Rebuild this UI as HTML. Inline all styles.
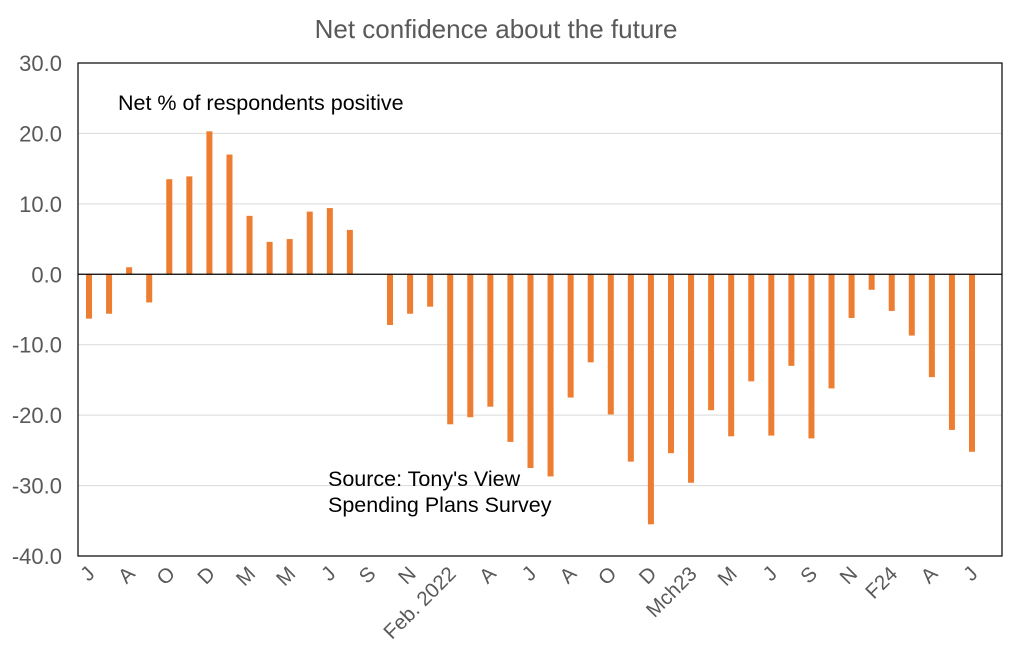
<!DOCTYPE html>
<html><head><meta charset="utf-8"><style>
html,body{margin:0;padding:0;background:#fff}
svg{display:block;font-family:"Liberation Sans",sans-serif}
</style></head><body>
<svg width="1024" height="669" viewBox="0 0 1024 669">
<text x="496" y="38" text-anchor="middle" font-size="26" fill="#595959">Net confidence about the future</text>
<g id="grid"></g>
<g id="bars"></g>
<g id="ylabels"></g>
<g id="xlabels"></g>
<rect x="78" y="63" width="924" height="493" fill="none" stroke="#000" stroke-width="1.2"/>
<text x="118" y="110" font-size="21.5" fill="#000">Net % of respondents positive</text>
<text font-size="21.5" fill="#000"><tspan x="328" y="486">Source: Tony's View</tspan><tspan x="328" y="512">Spending Plans Survey</tspan></text>
</svg>
<script>
const values=[-6.3,-5.6,1.0,-4.0,13.5,13.9,20.3,17.0,8.3,4.6,5.0,8.9,9.4,6.3,0,-7.2,-5.6,-4.6,-21.3,-20.3,-18.8,-23.8,-27.5,-28.7,-17.5,-12.5,-19.9,-26.6,-35.5,-25.4,-29.6,-19.3,-23.0,-15.2,-22.9,-13.0,-23.3,-16.2,-6.2,-2.2,-5.2,-8.7,-14.6,-22.1,-25.2];
const categoryLabels=["J","","A","","O","","D","","M","","M","","J","","S","","N","","Feb. 2022","","A","","J","","A","","O","","D","","Mch23","","M","","J","","S","","N","","F24","","A","","J"];
const yTicks=[30,20,10,0,-10,-20,-30,-40];
const NS="http://www.w3.org/2000/svg";
const x0=78,x1=1002,yTop=63,yBot=556,yMax=30,yMin=-40;
const n=values.length;
function X(i){return 89+i*(972-89)/(n-1);}
function Y(v){return yTop+(yMax-v)/(yMax-yMin)*(yBot-yTop);}
const grid=document.getElementById('grid'),bars=document.getElementById('bars'),yl=document.getElementById('ylabels'),xl=document.getElementById('xlabels');
yTicks.forEach(t=>{
  const l=document.createElementNS(NS,'line');
  
  
  l.setAttribute('x1',x0);l.setAttribute('x2',x1);l.setAttribute('y1',Y(t));l.setAttribute('y2',Y(t));
  l.setAttribute('stroke',t===0?'#000':'#d9d9d9');l.setAttribute('stroke-width',t===0?1.2:1);
  grid.appendChild(l);
  const tx=document.createElementNS(NS,'text');
  
  
  tx.setAttribute('x',62);tx.setAttribute('y',Y(t)+8);tx.setAttribute('text-anchor','end');
  tx.setAttribute('font-size','22');tx.setAttribute('fill','#595959');
  tx.textContent=t.toFixed(1);yl.appendChild(tx);
});
values.forEach((v,i)=>{
  if(v===0)return;
  const r=document.createElementNS(NS,'rect');
  
  
  const y=Math.min(Y(v),Y(0)),h=Math.abs(Y(v)-Y(0));
  r.setAttribute('x',X(i)-3);r.setAttribute('width',6);r.setAttribute('y',y);r.setAttribute('height',h);
  r.setAttribute('fill','#ed7d31');bars.appendChild(r);
});
categoryLabels.forEach((c,i)=>{
  if(!c)return;
  const t=document.createElementNS(NS,'text');
  
  
  const x=X(i)+7,y=575;
  t.setAttribute('x',x);t.setAttribute('y',y);t.setAttribute('text-anchor','end');
  t.setAttribute('font-size','20.5');t.setAttribute('fill','#595959');
  t.setAttribute('transform','rotate(-45 '+x+' '+y+')');
  t.textContent=c;xl.appendChild(t);
});
const zl=[...grid.children].find(e=>e.getAttribute('stroke')==='#000');
if(zl)bars.parentNode.insertBefore(zl,bars.nextSibling);
</script>
</body></html>
